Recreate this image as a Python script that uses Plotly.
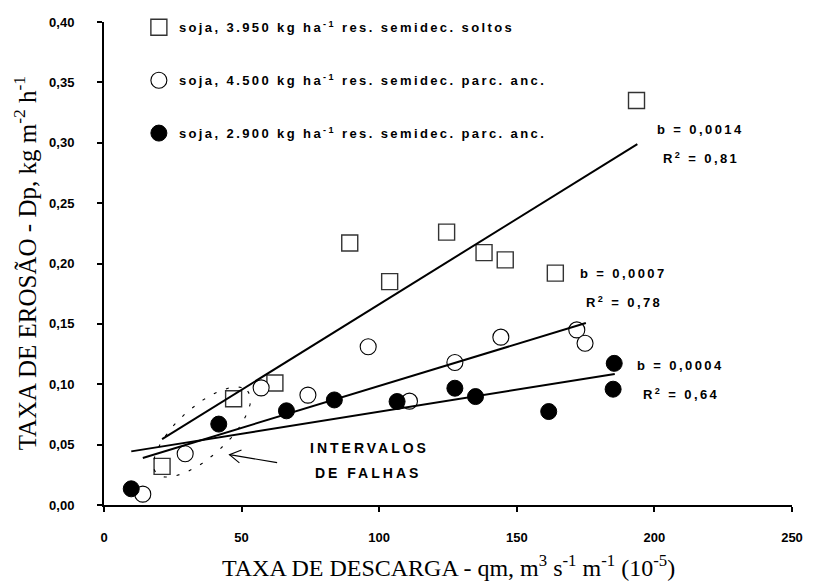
import numpy as np
import plotly.graph_objects as go

# ---- data ----
sq_x = [21.1, 47.1, 62.1, 89.3, 103.8, 124.5, 138.1, 145.8, 164.0, 193.5]
sq_y = [0.032, 0.088, 0.101, 0.217, 0.185, 0.226, 0.209, 0.203, 0.192, 0.335]

oc_x = [14.1, 29.5, 57.1, 74.1, 96.0, 111.0, 127.5, 144.2, 171.8, 174.8]
oc_y = [0.009, 0.0425, 0.097, 0.091, 0.131, 0.086, 0.118, 0.139, 0.145, 0.134]

fc_x = [9.9, 41.7, 66.3, 83.7, 106.5, 127.5, 135.0, 161.6, 185.4, 185.0]
fc_y = [0.0134, 0.067, 0.078, 0.087, 0.0857, 0.0967, 0.0898, 0.0774, 0.1173, 0.0959]

# regression lines (slope, intercept, x range)
fit_slope = [0.001415, 0.000694, 0.000365]
fit_icpt = [0.0247, 0.0292, 0.0408]
fit_x0 = [21.1, 14.1, 9.9]
fit_x1 = [193.8, 175.1, 185.6]
fit_b = ["b = 0,0014", "b = 0,0007", "b = 0,0004"]
fit_r2 = ["0,81", "0,78", "0,64"]
lab_x = [216.8, 188.9, 209.6]
lab_yb = [0.3112, 0.1916, 0.1154]
lab_yr = [0.2875, 0.168, 0.0919]

names = [
    "soja, 3.950 kg ha<sup>-1</sup> res. semidec. soltos",
    "soja, 4.500 kg ha<sup>-1</sup> res. semidec. parc. anc.",
    "soja, 2.900 kg ha<sup>-1</sup> res. semidec. parc. anc.",
]

x_ticks = [0, 50, 100, 150, 200, 250]
y_ticks = [0.0, 0.05, 0.10, 0.15, 0.20, 0.25, 0.30, 0.35, 0.40]

# arrow pointing to the gap intervals (tail, tip, barb, tip, barb)
arr_x = [62.9, 45.6, None, 49.96, 45.6, 49.2]
arr_y = [0.0351, 0.0417, None, 0.0455, 0.0417, 0.0349]


def sp(s, px=2.4):
    return '<span style="letter-spacing:%.1fpx">%s</span>' % (px, s)


AR = "Liberation Sans, Arial, sans-serif"
TM = "Liberation Serif, Times New Roman, serif"
BOLD13 = dict(family=AR, size=13, color="#000", weight="bold")

fig = go.Figure()

fig.add_trace(go.Scatter(
    x=sq_x, y=sq_y, mode="markers", name=sp(names[0]),
    marker=dict(symbol="square-open", size=16, color="#333333", line=dict(width=1.4)),
    legendgroup="a"))
fig.add_trace(go.Scatter(
    x=oc_x, y=oc_y, mode="markers", name=sp(names[1]),
    marker=dict(symbol="circle", size=16, color="white", line=dict(color="black", width=1.1)),
    legendgroup="b"))
fig.add_trace(go.Scatter(
    x=fc_x, y=fc_y, mode="markers", name=sp(names[2]),
    marker=dict(symbol="circle", size=16, color="black", line=dict(color="black", width=1)),
    legendgroup="c"))

for i in range(3):
    xs = np.array([fit_x0[i], fit_x1[i]])
    ys = fit_icpt[i] + fit_slope[i] * xs
    fig.add_trace(go.Scatter(x=xs, y=ys, mode="lines", showlegend=False,
                             line=dict(color="black", width=2), hoverinfo="skip"))
    fig.add_annotation(x=lab_x[i], y=lab_yb[i], text=sp(fit_b[i]),
                       showarrow=False, font=BOLD13)
    fig.add_annotation(x=lab_x[i], y=lab_yr[i], text=sp("R<sup>2</sup> = " + fit_r2[i]),
                       showarrow=False, font=BOLD13)

# dotted ellipse around the "intervalos de falhas"
ell_c = (35.6, 0.0604)
ell_a = (16.6, 0.034)
ell_b = (5.98, -0.0154)
t = np.linspace(0, 2 * np.pi, 80)
ex = ell_c[0] + np.cos(t) * ell_a[0] + np.sin(t) * ell_b[0]
ey = ell_c[1] + np.cos(t) * ell_a[1] + np.sin(t) * ell_b[1]
fig.add_trace(go.Scatter(x=ex, y=ey, mode="lines", showlegend=False, hoverinfo="skip",
                         line=dict(color="black", width=1.1, dash="3px,10px")))

fig.add_trace(go.Scatter(x=arr_x, y=arr_y, mode="lines", showlegend=False, hoverinfo="skip",
                         line=dict(color="black", width=1.1)))

fig.add_annotation(x=96.3, y=0.047, text=sp("INTERVALOS", 3.0), showarrow=False,
                   font=dict(family=AR, size=14, color="#000", weight="bold"))
fig.add_annotation(x=95.9, y=0.0266, text=sp("DE FALHAS", 3.0), showarrow=False,
                   font=dict(family=AR, size=14, color="#000", weight="bold"))

# axis titles
fig.add_annotation(xref="paper", yref="paper", x=0.5, y=-0.126, xanchor="center",
                   yanchor="middle", showarrow=False,
                   text="TAXA DE DESCARGA - qm, m<sup>3</sup> s<sup>-1</sup> m<sup>-1</sup> (10<sup>-5</sup>)",
                   font=dict(family=TM, size=24, color="#000"))
fig.add_annotation(xref="paper", yref="paper", x=-0.1151, y=0.5, xanchor="center",
                   yanchor="middle", showarrow=False, textangle=-90,
                   text="TAXA DE EROSÃO - Dp, kg m<sup>-2</sup> h<sup>-1</sup>",
                   font=dict(family=TM, size=25, color="#000"))

fig.update_layout(
    width=815, height=583,
    margin=dict(l=104, r=16, t=20, b=78),
    paper_bgcolor="white", plot_bgcolor="white",
    separators=",.",
    showlegend=True,
    legend=dict(x=0.0507, y=1.02, xanchor="left", yanchor="top",
                font=BOLD13, tracegroupgap=33, bgcolor="rgba(0,0,0,0)", itemsizing="trace"),
    font=dict(family=AR, color="black"),
)
fig.update_xaxes(
    range=[0, 250], tickvals=x_ticks, ticktext=[str(v) for v in x_ticks],
    showline=True, linecolor="black", linewidth=2, ticks="outside", ticklen=5,
    tickwidth=2, tickcolor="black", showgrid=False, zeroline=False,
    tickfont=BOLD13, ticklabelstandoff=14,
)
fig.update_yaxes(
    range=[0, 0.40], tickvals=y_ticks,
    ticktext=[("%.2f" % v).replace(".", ",") for v in y_ticks],
    showline=True, linecolor="black", linewidth=2, ticks="outside", ticklen=5,
    tickwidth=2, tickcolor="black", showgrid=False, zeroline=False,
    tickfont=BOLD13, ticklabelstandoff=20,
)

fig.write_html("out.html")
